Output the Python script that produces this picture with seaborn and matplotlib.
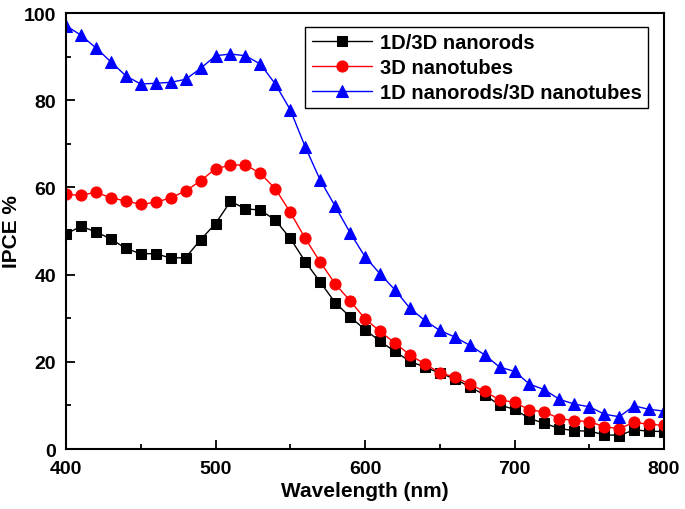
import numpy as np
import pandas as pd
import matplotlib
matplotlib.use("Agg")
import matplotlib.pyplot as plt
import seaborn as sns
from matplotlib.ticker import MultipleLocator

wavelength = list(range(400, 801, 10))

nanorods_1d3d = [49.3, 51.1, 49.8, 48.2, 46.0, 44.8, 44.8, 43.8, 43.9, 48.0,
                 51.7, 56.8, 55.1, 54.8, 52.5, 48.3, 43.0, 38.3, 33.6, 30.3,
                 27.4, 24.7, 22.4, 20.1, 18.8, 17.4, 16.1, 14.3, 12.4, 10.1,
                 9.1, 7.0, 5.9, 4.7, 4.2, 4.1, 3.3, 3.1, 4.4, 4.1, 4.0]

nanotubes_3d = [58.4, 58.2, 58.9, 57.6, 56.9, 56.1, 56.6, 57.6, 59.2, 61.5,
                64.3, 65.1, 65.2, 63.2, 59.7, 54.3, 48.3, 42.9, 37.9, 34.0,
                29.9, 27.0, 24.3, 21.6, 19.5, 17.5, 16.5, 14.9, 13.2, 11.3,
                10.7, 9.0, 8.5, 7.0, 6.5, 6.3, 5.1, 4.7, 6.1, 5.7, 5.4]

nanorods_nanotubes = [97.1, 94.9, 92.0, 88.8, 85.6, 83.7, 83.9, 84.1, 84.8, 87.3,
                      90.2, 90.6, 90.2, 88.3, 83.7, 77.8, 69.3, 61.7, 55.7, 49.6,
                      44.1, 40.2, 36.5, 32.3, 29.5, 27.2, 25.7, 23.8, 21.6, 18.8,
                      17.8, 14.9, 13.6, 11.4, 10.3, 9.7, 8.0, 7.4, 9.9, 9.1, 8.7]

labels = ["1D/3D nanorods", "3D nanotubes", "1D nanorods/3D nanotubes"]
colors = ["#000000", "#ff0000", "#0000ff"]
markers = ["s", "o", "^"]
msizes = [6.5, 8, 8.5]

sns.set_theme(style="white")
plt.rcParams['font.family'] = ['Liberation Sans', 'DejaVu Sans']
plt.rcParams['font.weight'] = 'bold'
plt.rcParams['text.color'] = 'black'
plt.rcParams['axes.labelcolor'] = 'black'
plt.rcParams['xtick.color'] = 'black'
plt.rcParams['ytick.color'] = 'black'

df = pd.DataFrame({
    "Wavelength": wavelength * 3,
    "IPCE": nanorods_1d3d + nanotubes_3d + nanorods_nanotubes,
    "Sample": [labels[0]] * len(wavelength) + [labels[1]] * len(wavelength) + [labels[2]] * len(wavelength),
})

fig = plt.figure(figsize=(6.85, 5.1), dpi=100)
ax = fig.add_axes([0.0964, 0.1176, 0.8730, 0.8549])

for lab, c, m, ms in zip(labels, colors, markers, msizes):
    sub = df[df["Sample"] == lab]
    sns.lineplot(data=sub, x="Wavelength", y="IPCE", ax=ax, color=c, marker=m,
                 markersize=ms, markeredgecolor=c, markerfacecolor=c,
                 linewidth=1.0, label=lab)

ax.set_xlim(400, 800)
ax.set_ylim(0, 100)
ax.xaxis.set_major_locator(MultipleLocator(100))
ax.xaxis.set_minor_locator(MultipleLocator(50))
ax.yaxis.set_major_locator(MultipleLocator(20))
ax.yaxis.set_minor_locator(MultipleLocator(10))
ax.tick_params(axis='both', which='major', direction='in', length=6.5, width=1.3,
               labelsize=14, bottom=True, left=True, top=False, right=False,
               colors='black')
ax.tick_params(axis='x', which='major', pad=8)
ax.tick_params(axis='y', which='major', pad=7)
ax.tick_params(axis='both', which='minor', direction='in', length=3.5, width=1.3,
               bottom=True, left=True, top=False, right=False, colors='black')
for lbl in ax.get_xticklabels() + ax.get_yticklabels():
    lbl.set_fontweight('bold')
for s in ax.spines.values():
    s.set_color('black')
    s.set_linewidth(1.5)

ax.set_xlabel("Wavelength (nm)", fontsize=15, fontweight='bold', labelpad=3)
ax.set_ylabel("IPCE %", fontsize=15, fontweight='bold', labelpad=2)

leg = ax.legend(loc='upper right', bbox_to_anchor=(0.973, 0.968), fontsize=14.5,
                frameon=True, fancybox=False, edgecolor='black', framealpha=1,
                handlelength=3.0, handletextpad=0.4, borderpad=0.3, labelspacing=0.3,
                borderaxespad=0)
leg.get_frame().set_linewidth(1.0)
for t in leg.get_texts():
    t.set_fontweight('bold')
    t.set_color('black')

fig.savefig("out.png", dpi=100)
